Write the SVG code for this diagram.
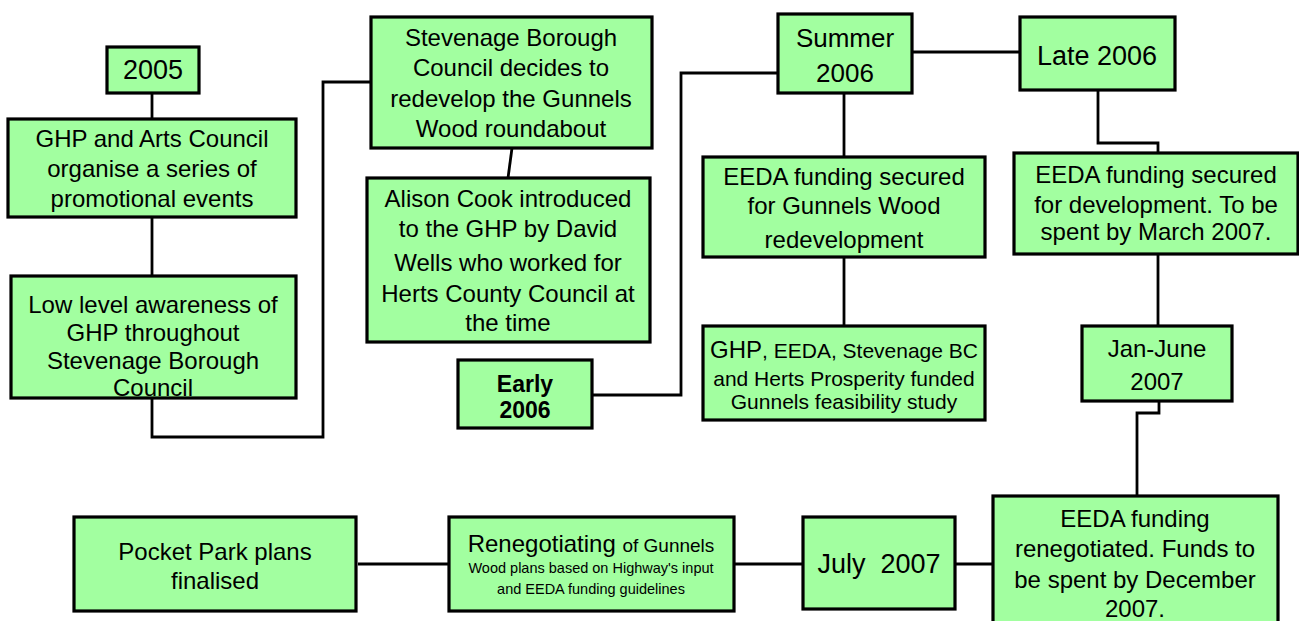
<svg xmlns="http://www.w3.org/2000/svg" width="1299" height="621" viewBox="0 0 1299 621">
<style>
.box{fill:#A2FFA0;stroke:#000;stroke-width:3.2}
.t{font-family:"Liberation Sans",Arial,sans-serif;font-size:24px;fill:#000;text-anchor:middle}
.b{font-weight:bold;font-size:23px}
.big{font-size:27px}
.sm{font-size:21px}
.xs{font-size:14.5px}
.con{fill:none;stroke:#000;stroke-width:2.8}
</style>
<rect width="1299" height="621" fill="#fff"/>
<g id="connectors">
<path class="con" d="M152,93 V119"/>
<path class="con" d="M152,217 V276"/>
<path class="con" d="M152,398 V437 H323 V82 H371"/>
<path class="con" d="M512,148 L508,178"/>
<path class="con" d="M592,395 H681 V73 H778"/>
<path class="con" d="M912,52 H1020"/>
<path class="con" d="M844,93 V157"/>
<path class="con" d="M844,257 V326"/>
<path class="con" d="M1098,90 V143 H1158 V153"/>
<path class="con" d="M1158,254 V326"/>
<path class="con" d="M1159,401 V413 H1137 V496"/>
<path class="con" d="M955,564 H993"/>
<path class="con" d="M734,564 H803"/>
<path class="con" d="M358,564 H449"/>
</g>
<g id="n2005">
<rect class="box" x="107" y="47" width="92" height="46"/>
<text class="t big" x="153" y="79">2005</text>
</g>
<g id="nGHPArts">
<rect class="box" x="8" y="119" width="288" height="98"/>
<text class="t" x="152" y="147">GHP and Arts Council</text>
<text class="t" x="152" y="177">organise a series of</text>
<text class="t" x="152" y="207">promotional events</text>
</g>
<g id="nLowLevel">
<rect class="box" x="11" y="276" width="285" height="122"/>
<text class="t" x="153" y="313">Low level awareness of</text>
<text class="t" x="153" y="341">GHP throughout</text>
<text class="t" x="153" y="369">Stevenage Borough</text>
<text class="t" x="153" y="396">Council</text>
</g>
<g id="nStevenage">
<rect class="box" x="371" y="17" width="281" height="131"/>
<text class="t" x="511" y="46">Stevenage Borough</text>
<text class="t" x="511" y="76">Council decides to</text>
<text class="t" x="511" y="107">redevelop the Gunnels</text>
<text class="t" x="511" y="137">Wood roundabout</text>
</g>
<g id="nAlison">
<rect class="box" x="367" y="178" width="283" height="164"/>
<text class="t" x="508" y="207">Alison Cook introduced</text>
<text class="t" x="508" y="237">to the GHP by David</text>
<text class="t" x="508" y="271">Wells who worked for</text>
<text class="t" x="508" y="302">Herts County Council at</text>
<text class="t" x="508" y="331">the time</text>
</g>
<g id="nEarly2006">
<rect class="box" x="458" y="360" width="134" height="68"/>
<text class="t b" x="525" y="392">Early</text>
<text class="t b" x="525" y="418">2006</text>
</g>
<g id="nSummer2006">
<rect class="box" x="778" y="14" width="134" height="79"/>
<text class="t" x="845" y="47" style="font-size:26px">Summer</text>
<text class="t" x="845" y="82" style="font-size:26px">2006</text>
</g>
<g id="nLate2006">
<rect class="box" x="1020" y="17" width="155" height="73"/>
<text class="t big" x="1097" y="65">Late 2006</text>
</g>
<g id="nEEDAGunnels">
<rect class="box" x="703" y="157" width="282" height="100"/>
<text class="t" x="844" y="185">EEDA funding secured</text>
<text class="t" x="844" y="214">for Gunnels Wood</text>
<text class="t" x="844" y="248">redevelopment</text>
</g>
<g id="nFeasibility">
<rect class="box" x="703" y="326" width="282" height="94"/>
<text class="t sm" x="844" y="358"><tspan style="font-size:24px">GHP</tspan>, EEDA, Stevenage BC</text>
<text class="t sm" x="844" y="386">and Herts Prosperity funded</text>
<text class="t sm" x="844" y="409">Gunnels feasibility study</text>
</g>
<g id="nEEDADev">
<rect class="box" x="1014" y="153" width="284" height="101"/>
<text class="t" x="1156" y="183">EEDA funding secured</text>
<text class="t" x="1156" y="213">for development. To be</text>
<text class="t" x="1156" y="240">spent by March 2007.</text>
</g>
<g id="nJanJune">
<rect class="box" x="1082" y="326" width="150" height="75"/>
<text class="t" x="1157" y="357">Jan-June</text>
<text class="t" x="1157" y="390">2007</text>
</g>
<g id="nEEDAReneg">
<rect class="box" x="993" y="496" width="285" height="150"/>
<text class="t" x="1135" y="527">EEDA funding</text>
<text class="t" x="1135" y="557">renegotiated. Funds to</text>
<text class="t" x="1135" y="588">be spent by December</text>
<text class="t" x="1135" y="617">2007.</text>
</g>
<g id="nJuly2007">
<rect class="box" x="803" y="517" width="152" height="92"/>
<text class="t big" x="879" y="573" xml:space="preserve">July  2007</text>
</g>
<g id="nRenegotiating">
<rect class="box" x="449" y="517" width="285" height="94"/>
<text class="t" x="591" y="552">Renegotiating <tspan style="font-size:19px">of Gunnels</tspan></text>
<text class="t xs" x="591" y="573">Wood plans based on Highway's input</text>
<text class="t xs" x="591" y="594">and EEDA funding guidelines</text>
</g>
<g id="nPocketPark">
<rect class="box" x="74" y="517" width="282" height="94"/>
<text class="t" x="215" y="560">Pocket Park plans</text>
<text class="t" x="215" y="589">finalised</text>
</g>
</svg>
